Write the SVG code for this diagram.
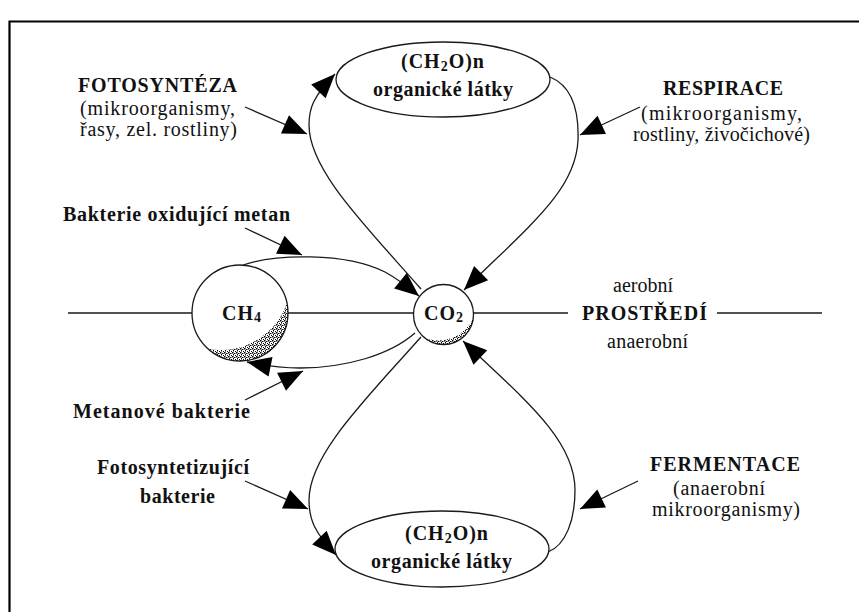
<svg xmlns="http://www.w3.org/2000/svg" width="859" height="612" viewBox="0 0 859 612">
<style>
.ln{fill:none;stroke:#1a1a1a;stroke-width:1.3}
.arr{marker-end:url(#ah)}
.shape{fill:#fff;stroke:#1a1a1a;stroke-width:1.3}
.b{font-family:"Liberation Serif","Times New Roman",serif;font-weight:bold;font-size:20px;fill:#111}
.r{font-family:"Liberation Serif","Times New Roman",serif;font-size:20px;fill:#111}
.sub{font-size:14px}
</style>
<defs>
<marker id="ah" markerUnits="userSpaceOnUse" markerWidth="25" markerHeight="20" refX="24" refY="10" orient="auto" overflow="visible">
<path d="M0,0 L24,10 L0,20 Z" fill="#000"/>
</marker>
<pattern id="stip" width="4" height="4" patternUnits="userSpaceOnUse">
<rect x="0" y="0" width="1.5" height="1.5" fill="#000"/>
<rect x="2" y="1" width="1.5" height="1" fill="#000"/>
<rect x="1" y="2" width="1" height="1.5" fill="#000"/>
<rect x="3" y="3" width="1" height="1" fill="#000"/>
</pattern>
<mask id="mCH4">
<circle cx="240" cy="313" r="48" fill="#fff"/>
<circle cx="221" cy="280" r="70" fill="#000"/>
</mask>
<mask id="mCO2">
<circle cx="443.5" cy="314.5" r="30" fill="#fff"/>
<circle cx="438.6" cy="302.4" r="38" fill="#000"/>
</mask>
</defs>
<rect x="0" y="0" width="859" height="612" fill="#fff"/>
<path d="M9.5,612 V21.5 H859" fill="none" stroke="#000" stroke-width="2.2"/>

<g id="axis">
<path class="ln" d="M68,313 H192 M288,313 H414 M473,313 H568 M717,313 H822"/>
<text class="r" x="613" y="292" textLength="60" lengthAdjust="spacing">aerobní</text>
<text class="b" x="582" y="320" textLength="125" lengthAdjust="spacing">PROSTŘEDÍ</text>
<text class="r" x="607" y="348" textLength="81" lengthAdjust="spacing">anaerobní</text>
</g>

<g id="connectors">
<path class="ln arr" d="M421,289 C365,225 309,170 309,125 C309,108 313,97 335,74"/>
<path class="ln arr" d="M550,77 C572,86 579,110 578,140 C576,190 530,225 464,290"/>
<path class="ln arr" d="M421,337 C365,400 309,455 309,500 C309,520 315,533 336,555"/>
<path class="ln arr" d="M548,552 C566,545 575,520 575,490 C575,440 525,400 463,341"/>
<path class="ln arr" d="M243,265 C275,254 345,252 385,272 C398,279 408,287 419,296"/>
<path class="ln arr" d="M415,333 C390,355 345,368 300,368 C280,368 262,365 247,362"/>
<path class="ln arr" d="M245,107 L307,134"/>
<path class="ln arr" d="M640,107 L580,135"/>
<path class="ln arr" d="M245,228 L302,255"/>
<path class="ln arr" d="M245,400 L303,371"/>
<path class="ln arr" d="M245,481 L308,509"/>
<path class="ln arr" d="M638,481 L580,509"/>
</g>

<g id="node-top">
<ellipse class="shape" cx="443" cy="79.5" rx="107" ry="37.5"/>
<text class="b" x="443" y="68" text-anchor="middle" letter-spacing="1">(CH<tspan class="sub" dy="3">2</tspan><tspan dy="-3">O)n</tspan></text>
<text class="b" x="373" y="96" textLength="140" lengthAdjust="spacing">organické látky</text>
</g>

<g id="node-bottom">
<ellipse class="shape" cx="442" cy="549" rx="107" ry="38"/>
<text class="b" x="447" y="540" text-anchor="middle" letter-spacing="1">(CH<tspan class="sub" dy="3">2</tspan><tspan dy="-3">O)n</tspan></text>
<text class="b" x="371" y="568" textLength="141" lengthAdjust="spacing">organické látky</text>
</g>

<g id="node-ch4">
<circle class="shape" cx="240" cy="313" r="48"/>
<rect x="190" y="263" width="100" height="100" fill="url(#stip)" mask="url(#mCH4)"/>
<text class="b" x="242" y="320" text-anchor="middle" letter-spacing="1">CH<tspan class="sub" dy="2">4</tspan></text>
</g>

<g id="node-co2">
<circle class="shape" cx="443.5" cy="314.5" r="30"/>
<rect x="412" y="283" width="64" height="64" fill="url(#stip)" mask="url(#mCO2)"/>
<text class="b" x="444" y="320" text-anchor="middle" letter-spacing="1">CO<tspan class="sub" dy="2">2</tspan></text>
</g>

<g id="label-fotosynteza">
<text class="b" x="78" y="92" textLength="159" lengthAdjust="spacing">FOTOSYNTÉZA</text>
<text class="r" x="80" y="115" textLength="155" lengthAdjust="spacing">(mikroorganismy,</text>
<text class="r" x="80" y="136" textLength="157" lengthAdjust="spacing">řasy, zel. rostliny)</text>
</g>

<g id="label-respirace">
<text class="b" x="663" y="95" textLength="120" lengthAdjust="spacing">RESPIRACE</text>
<text class="r" x="641" y="120" textLength="161" lengthAdjust="spacing">(mikroorganismy,</text>
<text class="r" x="633" y="141" textLength="177" lengthAdjust="spacing">rostliny, živočichové)</text>
</g>

<g id="label-oxidujici">
<text class="b" x="63" y="221" textLength="227" lengthAdjust="spacing">Bakterie oxidující metan</text>
</g>

<g id="label-metanove">
<text class="b" x="73" y="418" textLength="177" lengthAdjust="spacing">Metanové  bakterie</text>
</g>

<g id="label-fotosyntetizujici">
<text class="b" x="97" y="474" textLength="152" lengthAdjust="spacing">Fotosyntetizující</text>
<text class="b" x="140" y="503" textLength="75" lengthAdjust="spacing">bakterie</text>
</g>

<g id="label-fermentace">
<text class="b" x="650" y="471" textLength="150" lengthAdjust="spacing">FERMENTACE</text>
<text class="r" x="673" y="495" textLength="92" lengthAdjust="spacing">(anaerobní</text>
<text class="r" x="652" y="516" textLength="148" lengthAdjust="spacing">mikroorganismy)</text>
</g>
</svg>
